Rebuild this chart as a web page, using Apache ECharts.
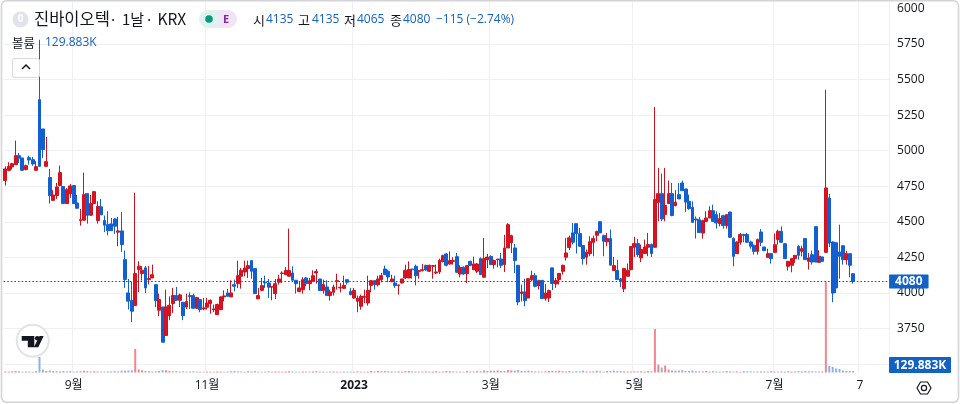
<!DOCTYPE html>
<html><head><meta charset="utf-8">
<style>html,body{margin:0;padding:0;background:#fff}#c{width:960px;height:404px}</style>
<script src="https://cdn.jsdelivr.net/npm/echarts@6/dist/echarts.min.js"></script></head>
<body><div id="c"></div>
<script>
// each row: open, high, low, close
const ohlc = [
[4790,4890,4755,4872],[4862,4919,4855,4890],[4886,4914,4867,4909],[4902,5071,4902,4965],[4965,4984,4914,4947],
[4949,4949,4860,4862],[4867,4902,4862,4895],[4951,4965,4902,4935],[4937,4956,4895,4907],[4862,4926,4860,4888],
[5359,5780,4890,4890],[5153,5153,4949,5008],[4890,5097,4890,4923],[4811,4872,4628,4684],[4651,4722,4647,4689],
[4684,4773,4661,4745],[4755,4895,4750,4846],[4748,4748,4626,4628],[4628,4738,4626,4726],[4698,4766,4668,4752],
[4755,4755,4628,4628],[4633,4689,4595,4595],[4508,4590,4473,4515],[4511,4846,4508,4691],[4698,4698,4487,4546],
[4546,4689,4544,4628],[4628,4717,4626,4712],[4509,4644,4487,4609],[4605,4661,4549,4549],[4509,4544,4427,4476],
[4480,4574,4405,4438],[4485,4527,4438,4438],[4520,4527,4415,4469],[4427,4534,4328,4436],[4436,4570,4288,4340],
[4234,4298,4035,4094],[4000,4099,3883,3942],[3946,4080,3794,3871],[3911,4705,3911,4136],[4164,4223,4005,4188],
[4136,4188,4087,4160],[4176,4188,3999,4035],[4094,4188,4059,4101],[4105,4199,4105,4128],[4058,4058,3899,3946],
[3878,3995,3836,3953],[3901,3901,3653,3653],[3700,4023,3700,3901],[3840,3976,3808,3913],[3925,4035,3859,3981],
[3981,4042,3946,3948],[3948,3995,3901,3986],[3934,3934,3808,3840],[3901,3995,3887,3939],[3981,4004,3887,3974],
[3981,3995,3887,3892],[3892,3972,3887,3967],[3953,3953,3864,3883],[3887,3965,3878,3894],[3899,3965,3883,3929],
[3925,3953,3854,3948],[3882,3918,3864,3887],[3847,3925,3847,3918],[3882,3976,3882,3972],[3972,4018,3941,3979],
[4000,4028,3976,3976],[3972,4089,3972,4000],[4058,4093,4011,4047],[4065,4227,4035,4121],[4117,4175,4030,4159],
[4147,4227,4117,4175],[4171,4227,4105,4192],[4227,4227,4100,4152],[4171,4171,3995,3995],[3958,4035,3958,3981],
[4018,4105,4011,4051],[4075,4121,4035,4070],[4070,4098,3965,4040],[4041,4046,3948,4046],[3995,4098,3957,4065],
[4075,4128,4058,4098],[4136,4152,4070,4140],[4128,4182,4128,4157],[4117,4452,4117,4157],[4140,4187,4089,4089],
[4089,4089,3995,4065],[4009,4082,4004,4035],[4023,4112,3995,4093],[4105,4112,4046,4065],[4065,4105,4018,4086],
[4082,4159,4082,4121],[4140,4168,4065,4150],[4098,4098,4016,4016],[4018,4093,3995,4058],[4042,4089,3981,3981],
[3981,4023,3946,4007],[4004,4058,3981,4042],[4082,4135,4023,4086],[4035,4070,4004,4039],[4032,4121,4027,4053],
[4093,4093,4058,4075],[4009,4035,3983,3988],[3964,4035,3960,4018],[3941,3981,3864,3962],[3906,3988,3882,3976],
[3969,4023,3929,3976],[3929,4121,3910,4018],[4053,4089,4004,4086],[4086,4089,4023,4058],[4058,4121,4046,4098],
[4093,4140,4075,4121],[4168,4192,4128,4128],[4152,4164,4075,4112],[4079,4128,4075,4098],[4070,4121,4035,4051],
[4051,4058,3988,4056],[4070,4098,4065,4098],[4105,4199,4098,4159],[4105,4222,4105,4164],[4168,4168,4100,4163],
[4187,4199,4053,4121],[4152,4156,4100,4156],[4156,4203,4152,4163],[4192,4199,4156,4161],[4152,4199,4147,4194],
[4187,4194,4100,4192],[4140,4199,4133,4147],[4147,4241,4133,4229],[4220,4269,4215,4262],[4274,4281,4187,4194],
[4203,4292,4199,4227],[4222,4250,4199,4227],[4255,4281,4140,4145],[4133,4194,4110,4180],[4180,4187,4128,4133],
[4135,4194,4070,4192],[4222,4227,4187,4194],[4163,4255,4163,4203],[4152,4210,4140,4203],[4241,4250,4128,4128],
[4110,4386,4110,4241],[4234,4274,4175,4252],[4257,4264,4199,4199],[4199,4234,4170,4227],[4234,4238,4180,4238],
[4238,4281,4175,4194],[4199,4409,4147,4316],[4316,4491,4316,4480],[4355,4409,4280,4402],[4316,4344,4140,4227],
[4194,4194,3913,3936],[3997,4058,3940,4006],[4006,4100,3906,3945],[3964,4100,3964,4100],[4093,4156,4081,4121],
[4121,4140,4039,4046],[4051,4093,4023,4086],[4088,4088,3960,3960],[3960,4063,3945,3999],[3964,4023,3936,4016],
[4176,4176,4019,4066],[4063,4105,4035,4087],[4094,4141,4059,4136],[4152,4199,4129,4194],[4251,4387,4227,4281],
[4319,4403,4300,4387],[4422,4492,4340,4356],[4487,4487,4277,4417],[4417,4457,4328,4328],[4333,4333,4199,4241],
[4251,4305,4199,4286],[4276,4398,4258,4359],[4356,4403,4258,4382],[4405,4438,4363,4431],[4501,4504,4422,4422],
[4403,4410,4258,4363],[4359,4422,4328,4382],[4382,4445,4195,4195],[4157,4253,4157,4192],[4157,4234,4094,4094],
[4098,4106,4040,4082],[4030,4176,4005,4171],[4117,4206,4117,4159],[4164,4328,4159,4326],[4321,4394,4253,4347],
[4347,4380,4253,4270],[4246,4340,4216,4305],[4277,4375,4277,4323],[4321,4422,4258,4340],[4340,4347,4253,4277],
[4321,5307,4316,4656],[4637,4879,4504,4698],[4698,4839,4504,4520],[4551,4879,4504,4614],[4628,4790,4628,4698],
[4698,4773,4539,4544],[4614,4722,4609,4637],[4691,4773,4661,4661],[4773,4790,4719,4719],[4731,4731,4569,4639],
[4644,4691,4585,4592],[4602,4644,4496,4496],[4520,4538,4382,4513],[4515,4534,4421,4424],[4421,4515,4382,4508],
[4503,4574,4499,4527],[4527,4609,4527,4578],[4578,4620,4499,4503],[4550,4574,4452,4492],[4487,4562,4468,4522],
[4543,4550,4452,4473],[4473,4550,4452,4550],[4569,4569,4386,4391],[4382,4391,4187,4257],[4276,4363,4276,4358],
[4356,4421,4339,4410],[4410,4417,4356,4403],[4410,4421,4351,4356],[4358,4367,4311,4328],[4335,4339,4269,4292],
[4292,4382,4269,4375],[4428,4449,4328,4356],[4323,4323,4297,4297],[4250,4311,4246,4276],[4276,4276,4206,4241],
[4285,4417,4281,4339],[4375,4445,4339,4433],[4433,4468,4351,4356],[4346,4351,4241,4241],[4187,4222,4157,4222],
[4194,4246,4145,4241],[4241,4264,4211,4264],[4328,4335,4234,4264],[4293,4332,4257,4311],[4382,4382,4234,4234],
[4222,4281,4164,4246],[4269,4297,4199,4217],[4466,4466,4217,4217],[4215,4300,4211,4257],[4253,4253,4222,4222],
[4285,5429,4285,4738],[4667,4696,4323,4351],[4358,4363,3934,3999],[4353,4353,3999,4035],[4288,4480,4100,4257],
[4332,4332,4199,4234],[4234,4297,4199,4276],[4276,4276,4110,4194],[4135,4135,4065,4080]
];
// traded volume in thousands
const volumes = [
90,80,100,130,110,70,90,80,70,110,1320,255,130,170,120,100,90,130,90,110,
70,90,100,150,120,80,110,90,70,80,90,100,120,90,160,150,170,190,2000,260,
190,130,110,90,100,130,200,190,130,100,120,80,90,70,80,100,80,70,60,80,
70,60,90,80,60,90,100,120,90,80,70,110,90,120,70,60,80,100,70,90,
80,70,90,110,80,70,60,90,80,70,90,110,80,70,60,80,90,70,60,80,
70,80,60,90,70,60,80,140,90,130,110,120,100,90,70,100,80,120,130,100,
90,70,80,100,70,90,110,70,80,130,110,90,80,70,60,120,90,80,110,100,
170,130,160,140,170,130,120,210,180,170,210,130,120,150,110,90,80,70,100,130,
150,120,150,110,90,120,80,110,90,160,90,80,100,150,100,80,120,130,160,120,
110,100,90,80,100,90,110,80,120,100,3700,680,425,595,255,170,150,170,190,120,
130,160,110,100,90,140,80,110,90,70,90,120,100,80,90,70,120,100,90,70,
80,100,90,80,110,80,70,90,70,110,90,80,120,90,130,100,110,90,80,100,
7735,570,470,340,300,170,130,130,130
];
const blankSlots = 10;
const tickSlots = [20, 59, 102, 142, 184, 225, 250];
const tickLabels = ['9월', '11월', '2023', '3월', '5월', '7월', '7'];
const priceTicks = {min: 3500, max: 6000, step: 250};
const lastClose = 4080;
const lastVolumeText = '129.883K';
const headerName = ['진바이오텍', '·', '1날', '·', 'KRX'];
const headerValues = [['시', '4135'], ['고', '4135'], ['저', '4065'], ['종', '4080']];
const headerChange = '−115 (−2.74%)';

const RED = '#e0101f', REDW = '#cc1320', BLUE = '#1260d0', ACC = '#1261c4', INK = '#131722';
const FONT = '"Noto Sans CJK KR","Noto Sans",sans-serif';
const FONTD = '"Open Sans","Noto Sans CJK KR",sans-serif';
const categories = ohlc.map((_, i) => i).concat(Array.from({length: blankSlots}, (_, i) => ohlc.length + i));
const candleData = ohlc.map(r => [r[0], r[3], r[2], r[1]]);
const volumeData = volumes.map((v, i) => ({
  value: v,
  itemStyle: {color: ohlc[i][3] >= ohlc[i][0] ? '#f2868d' : '#8fb2e4'}
}));
const isTick = i => tickSlots.includes(i);

function text(t, x, y, fill, font, extra) {
  return {type: 'text', silent: true, z: 100, style: Object.assign({text: t, x, y, fill, font, textVerticalAlign: 'middle'}, extra || {})};
}
const gr = [];
gr.push({type: 'circle', silent: true, z: 99, shape: {cx: 20.5, cy: 19.5, r: 8}, style: {fill: '#e0e3eb'}});
gr.push(text('0', 20.5, 19.5, '#fff', 'bold 10px ' + FONTD, {textAlign: 'center'}));
[[34, '16.5px '], [109, '15px '], [122, '15px '], [145, '15px '], [157.5, '15.5px ']].forEach((p, i) => {
  gr.push(text(headerName[i], p[0], 19, INK, p[1] + FONT));
});
gr.push({type: 'rect', silent: true, z: 99, shape: {x: 199, y: 10, width: 38, height: 18, r: 9},
  style: {fill: {type: 'linear', x: 0, y: 0, x2: 1, y2: 0, colorStops: [{offset: 0, color: '#dff3ee'}, {offset: .45, color: '#dff3ee'}, {offset: .6, color: '#f3e3f6'}, {offset: 1, color: '#f3e3f6'}]}}});
gr.push({type: 'circle', silent: true, z: 100, shape: {cx: 209, cy: 19, r: 3.8}, style: {fill: '#089981'}});
gr.push(text('E', 226, 19.5, '#7b2a96', 'bold 11px ' + FONTD, {textAlign: 'center'}));
[[253, 266], [298, 312], [344, 357], [390, 403]].forEach((p, i) => {
  gr.push(text(headerValues[i][0], p[0], 20, INK, '13px ' + FONT));
  gr.push(text(headerValues[i][1], p[1], 20, ACC, '12px ' + FONTD));
});
gr.push(text(headerChange, 436, 20, ACC, '12px ' + FONTD));
gr.push(text('볼륨', 12, 43, INK, '12.5px ' + FONT));
gr.push(text(lastVolumeText, 45, 43, ACC, '12px ' + FONTD));
gr.push({type: 'rect', silent: true, z: 99, shape: {x: 12.5, y: 58.5, width: 27, height: 19, r: 2}, style: {fill: '#fff', stroke: '#d6d9e0', lineWidth: 1}});
gr.push({type: 'polyline', silent: true, z: 100, shape: {points: [[22, 69], [26, 65], [30, 69]]}, style: {fill: 'none', stroke: INK, lineWidth: 1.5}});
gr.push({type: 'circle', silent: true, z: 99, shape: {cx: 32.7, cy: 340.7, r: 16}, style: {fill: '#fff', stroke: '#e0e3eb', lineWidth: 2}});
gr.push({type: 'polygon', silent: true, z: 100, shape: {points: [[21.7, 336], [34.3, 336], [34.3, 347.3], [27.8, 347.3], [27.8, 340.7], [21.7, 340.7]]}, style: {fill: INK}});
gr.push({type: 'circle', silent: true, z: 100, shape: {cx: 37.2, cy: 338.3, r: 2.3}, style: {fill: INK}});
gr.push({type: 'polygon', silent: true, z: 100, shape: {points: [[39.5, 336], [43.7, 336], [38.3, 347.3], [33.9, 347.3]]}, style: {fill: INK}});
gr.push({type: 'rect', silent: true, z: 99, shape: {x: 889, y: 357, width: 62, height: 16, r: 1}, style: {fill: ACC}});
gr.push(text(lastVolumeText, 920, 365.5, '#fff', 'bold 12px ' + FONTD, {textAlign: 'center'}));
gr.push({type: 'polygon', silent: true, z: 100, shape: {points: [[917, 388], [920.5, 382], [927.5, 382], [931, 388], [927.5, 394], [920.5, 394]]}, style: {fill: 'none', stroke: INK, lineWidth: 1.2}});
gr.push({type: 'circle', silent: true, z: 100, shape: {cx: 924, cy: 388, r: 2.6}, style: {fill: 'none', stroke: INK, lineWidth: 1.2}});
gr.push({type: 'rect', silent: true, z: 101, shape: {x: 1.5, y: 0.8, width: 957, height: 401.5, r: 5}, style: {fill: 'none', stroke: '#d2d4d8', lineWidth: 1.6}});

const chart = echarts.init(document.getElementById('c'), null, {renderer: 'canvas'});
chart.setOption({
  animation: false,
  backgroundColor: '#fff',
  graphic: gr,
  grid: [
    {left: 3.6, width: 885.5, top: 8.5, height: 355.5},
    {left: 3.6, width: 885.5, top: 0, height: 372.5}
  ],
  xAxis: [
    {type: 'category', gridIndex: 0, data: categories, show: false},
    {type: 'category', gridIndex: 1, data: categories,
      axisLine: {show: false},
      axisTick: {show: false, alignWithLabel: true, interval: i => isTick(i)},
      splitLine: {show: true, interval: i => isTick(i), lineStyle: {color: '#eef0f5', width: 1}},
      axisLabel: {interval: i => isTick(i), margin: 7, color: INK, fontSize: 12, fontFamily: FONTD, hideOverlap: false,
        formatter: (v) => {
          const k = tickSlots.indexOf(+v);
          if (k < 0) return '';
          return tickLabels[k] === '2023' ? '{b|2023}' : tickLabels[k];
        },
        rich: {b: {fontWeight: 'bold', fontSize: 12, fontFamily: FONTD, color: INK}}
      }}
  ],
  yAxis: [
    {type: 'value', gridIndex: 0, position: 'right', min: priceTicks.min, max: priceTicks.max, interval: priceTicks.step,
      axisLine: {show: false}, axisTick: {show: false},
      axisLabel: {showMinLabel: false, margin: 8, color: INK, fontSize: 12, fontFamily: FONTD, formatter: v => String(v)},
      splitLine: {show: true, showMaxLine: false, lineStyle: {color: '#eef0f5', width: 1}}},
    {type: 'value', gridIndex: 1, min: 0, max: 31660, show: false, splitLine: {show: false}}
  ],
  series: [
    {type: 'bar', xAxisIndex: 1, yAxisIndex: 1, data: volumeData, barWidth: 2, z: 2},
    {type: 'candlestick', xAxisIndex: 0, yAxisIndex: 0, data: candleData, barWidth: 3.4, z: 3,
      itemStyle: {color: RED, color0: BLUE, borderColor: REDW, borderColor0: BLUE, borderWidth: 1},
      markLine: {silent: true, symbol: 'none', animation: false, z: 5,
        lineStyle: {color: '#0f55b8', type: [1.6, 2], width: 1},
        label: {show: true, position: 'end', distance: 0, formatter: String(lastClose), color: '#fff', backgroundColor: ACC,
          fontWeight: 'bold', fontSize: 12, fontFamily: FONTD, padding: [1, 6, 1, 6], borderRadius: 1},
        data: [{yAxis: lastClose}]}}
  ]
});
</script></body></html>
